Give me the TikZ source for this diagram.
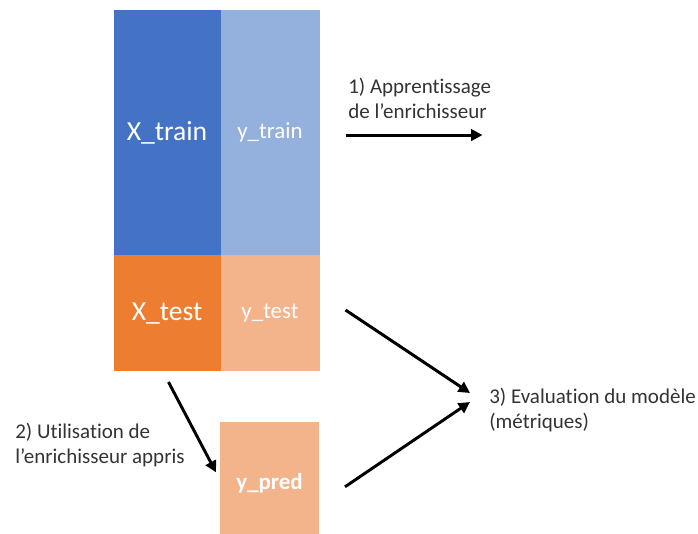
\documentclass[tikz,border=0pt]{standalone}
\usepackage{fontspec}
\setmainfont[Ligatures={NoCommon}]{Carlito}
\usetikzlibrary{positioning, arrows.meta}
\definecolor{blueD}{HTML}{4472C4}
\definecolor{blueL}{HTML}{94B0DC}
\definecolor{orangeD}{HTML}{ED7D31}
\definecolor{orangeL}{HTML}{F4B48B}
\tikzstyle{xblock} = [rectangle, inner sep=0pt, outer sep=0pt, minimum width=80.25pt, text=white, font=\fontsize{20.7}{24}\selectfont]
\tikzstyle{yblock} = [rectangle, inner sep=0pt, outer sep=0pt, minimum width=74.25pt, text=white, font=\fontsize{17.2}{20}\selectfont]
\tikzstyle{stepnote} = [align=left, inner sep=0pt, font=\fontsize{15.75}{18.75}\selectfont, text=black!80]
\tikzstyle{arrow} = [line width=2.2pt,-{Triangle[length=8.5pt,width=8.5pt]}]

\begin{document}
\begin{tikzpicture}[x=0.75pt, y=-0.75pt]
\useasboundingbox (0,0) rectangle (698,533);

\node (xtrain) [xblock, fill=blueD, minimum height=183.75pt, anchor=north west] at (113.5,10) {X\_train};
\node (ytrain) [yblock, fill=blueL, minimum height=183.75pt, right=0pt of xtrain] {y\_train};
\node (xtest) [xblock, fill=orangeD, minimum height=87pt, below=0pt of xtrain] {X\_test};
\node (ytest) [yblock, fill=orangeL, minimum height=87pt, right=0pt of xtest] {y\_test};
\node (ypred) [yblock, fill=orangeL, minimum height=92pt, anchor=north west, font=\fontsize{17.2}{20}\selectfont\bfseries] at (220,422) {y\_pred};

\node (learn) [stepnote, anchor=west] at (348,98.5) {1) Apprentissage\\de l’enrichisseur};
\node (use) [stepnote, anchor=west] at (15,445) {2) Utilisation de\\l’enrichisseur appris};
\node (eval) [stepnote, anchor=west] at (489,410) {3) Evaluation du modèle\\(métriques)};

\draw [arrow] ([xshift=19.5pt,yshift=-1.9pt]ytrain.east) -- +(102.75pt,0);
\draw [arrow] ([xshift=1.1pt,yshift=-8.25pt]xtest.south) -- ([xshift=-3pt,yshift=8.25pt]ypred.west);
\draw [arrow] ([xshift=19.5pt,yshift=2.25pt]ytest.east) -- ([xshift=-14.25pt,yshift=12.75pt]eval.west);
\draw [arrow] ([xshift=19.5pt,yshift=-2.6pt]ypred.east) -- ([xshift=-14.25pt,yshift=6pt]eval.west);

\end{tikzpicture}
\end{document}
